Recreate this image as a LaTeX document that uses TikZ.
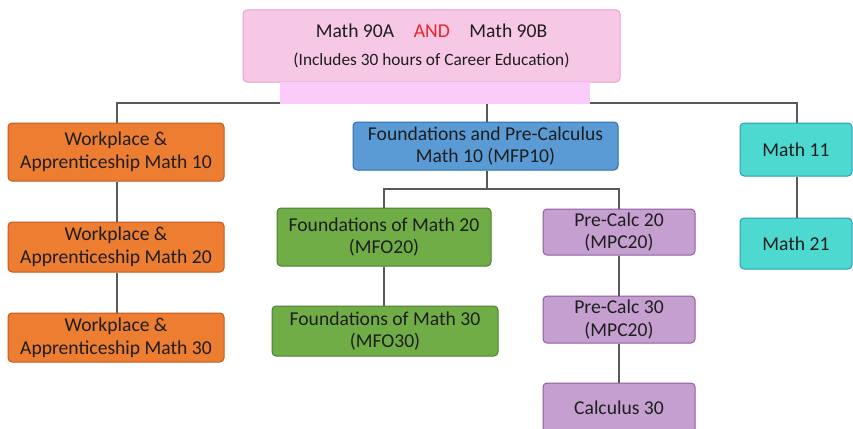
\documentclass[tikz,border=0pt]{standalone}
\usepackage{fontspec}
\setmainfont{Carlito}
\definecolor{orfill}{HTML}{ED7D31}\definecolor{ordraw}{HTML}{C05A1F}
\definecolor{blfill}{HTML}{5B9BD5}\definecolor{bldraw}{HTML}{2F6EA8}
\definecolor{grfill}{HTML}{70AD47}\definecolor{grdraw}{HTML}{507E32}
\definecolor{pufill}{HTML}{C49FD0}\definecolor{pudraw}{HTML}{8E5EA2}
\definecolor{cyfill}{HTML}{4DD9D0}\definecolor{cydraw}{HTML}{2A9DB5}
\definecolor{pkfill}{HTML}{F6C8E6}\definecolor{pkdraw}{HTML}{E9A2D0}
\definecolor{pkover}{HTML}{FBCBF9}
\definecolor{txt}{HTML}{1E1E1E}
\definecolor{andred}{HTML}{E8242A}
\definecolor{conn}{HTML}{595959}
\tikzset{
  box/.style={draw, line width=1pt, rounded corners=4pt, align=center, text=txt,
    font=\fontsize{19.6}{22.7}\selectfont, inner sep=0pt},
  orbox/.style={box, fill=orfill, draw=ordraw},
  blbox/.style={box, fill=blfill, draw=bldraw},
  grbox/.style={box, fill=grfill, draw=grdraw},
  pubox/.style={box, fill=pufill, draw=pudraw},
  cybox/.style={box, fill=cyfill, draw=cydraw},
  link/.style={draw=conn, line width=1.3pt},
}
\begin{document}
\begin{tikzpicture}[x=1pt,y=-1pt]
\useasboundingbox (0,0) rectangle (853,428);
\begin{scope}
\clip (0,0) rectangle (853,428);
\node[box, fill=pkfill, draw=pkdraw, minimum width=377pt, minimum height=72pt] (top) at (431.5,46)
  {Math 90A\quad{\color{andred}AND}\quad Math 90B\\[5pt]{\fontsize{17.3}{20}\selectfont (Includes 30 hours of Career Education)}};
\node[orbox, minimum width=216pt, minimum height=58pt] (wa10) at (116,152) {Workplace \&\\Apprenticeship Math 10};
\node[orbox, minimum width=216pt, minimum height=50pt] (wa20) at (116,247) {Workplace \&\\Apprenticeship Math 20};
\node[orbox, minimum width=216pt, minimum height=49pt] (wa30) at (116,337.5) {Workplace \&\\Apprenticeship Math 30};
\node[blbox, minimum width=265pt, minimum height=48pt] (mfp10) at (485.5,146) {Foundations and Pre-Calculus\\Math 10 (MFP10)};
\node[grbox, minimum width=214pt, minimum height=58pt] (mfo20) at (384,237) {Foundations of Math 20\\(MFO20)};
\node[grbox, minimum width=226pt, minimum height=50pt] (mfo30) at (385,331) {Foundations of Math 30\\(MFO30)};
\node[pubox, minimum width=152pt, minimum height=46pt] (mpc20) at (619,232) {Pre-Calc 20\\(MPC20)};
\node[pubox, minimum width=152pt, minimum height=47pt] (mpc30) at (619,319.5) {Pre-Calc 30\\(MPC20)};
\node[pubox, minimum width=152pt, minimum height=50pt] (calc30) at (619,408) {Calculus 30};
\node[cybox, minimum width=112pt, minimum height=53pt] (m11) at (796,149.5) {Math 11};
\node[cybox, minimum width=112pt, minimum height=51pt] (m21) at (796,243.5) {Math 21};
\coordinate (bus) at (487,103);
\coordinate (bus2) at (487,189);
\draw[link] (top.south -| bus) -- (bus) -- (bus |- mfp10.north);
\draw[link] (wa10.north -| 117,0) |- (bus) -| (m11.north -| 797,0);
\draw[link] (wa10.south -| 117,0) -- (wa20.north -| 117,0);
\draw[link] (wa20.south -| 117,0) -- (wa30.north -| 117,0);
\draw[link] (mfp10.south -| bus2) -- (bus2);
\draw[link] (mfo20.north) |- (bus2) -| (mpc20.north);
\draw[link] (mfo20.south) -- (mfo30.north -| mfo20.south);
\draw[link] (mpc20.south) -- (mpc30.north);
\draw[link] (mpc30.south) -- (calc30.north);
\draw[link] (m11.south -| 797,0) -- (m21.north -| 797,0);
\fill[pkover] (280,82) rectangle (590,103.7);
\end{scope}
\end{tikzpicture}
\end{document}
